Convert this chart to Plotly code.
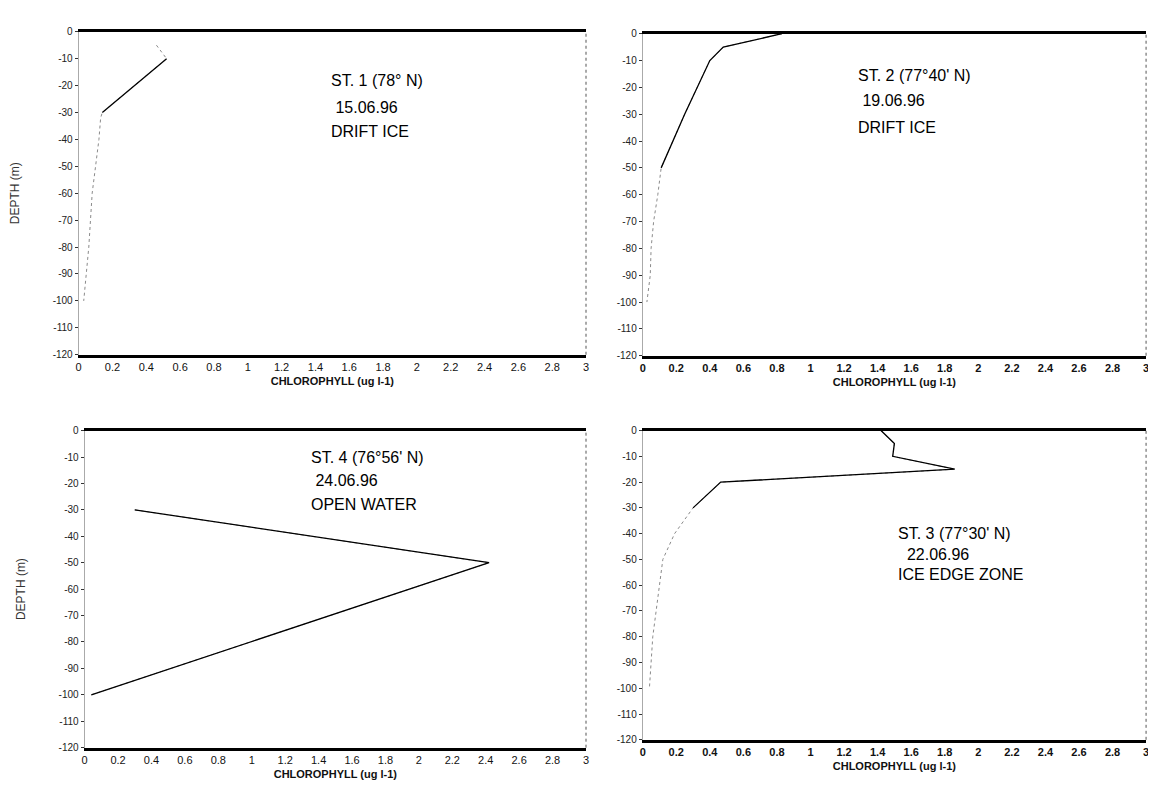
import plotly.graph_objects as go

W, H = 1156, 790

# ---------------- data ----------------
depth_st1 = [-5, -10, -30, -32, -40, -50, -60, -70, -80, -90, -100]
chl_st1 = [0.46, 0.52, 0.14, 0.13, 0.12, 0.10, 0.08, 0.07, 0.06, 0.045, 0.03]
solid_st1 = (1, 2)

depth_st2 = [0, -5, -10, -30, -50, -60, -70, -80, -90, -100]
chl_st2 = [0.83, 0.48, 0.40, 0.25, 0.11, 0.09, 0.065, 0.05, 0.045, 0.025]
solid_st2 = (0, 4)

depth_st3 = [0, -5, -10, -15, -20, -30, -40, -50, -60, -70, -80, -90, -100]
chl_st3 = [1.42, 1.50, 1.49, 1.86, 0.465, 0.30, 0.19, 0.12, 0.10, 0.08, 0.06, 0.05, 0.04]
solid_st3 = (0, 5)

depth_st4 = [-30, -50, -100]
chl_st4 = [0.30, 2.42, 0.04]
solid_st4 = (0, 2)

x_ticks = [0, 0.2, 0.4, 0.6, 0.8, 1, 1.2, 1.4, 1.6, 1.8, 2, 2.2, 2.4, 2.6, 2.8, 3]
y_ticks = [0, -10, -20, -30, -40, -50, -60, -70, -80, -90, -100, -110, -120]
y_ticktext = ["0", "-10", "-20", "-30", "-40", "-50", "-60", "-70", "-80", "-90", "-100", "-110", "-120"]

labels_st1 = ["ST. 1 (78° N)", " 15.06.96", "DRIFT ICE"]
labels_st2 = ["ST. 2 (77°40' N)", " 19.06.96", "DRIFT ICE"]
labels_st3 = ["ST. 3 (77°30' N)", "  22.06.96", "ICE EDGE ZONE"]
labels_st4 = ["ST. 4 (76°56' N)", " 24.06.96", "OPEN WATER"]

x_title = "CHLOROPHYLL (ug l-1)"
y_title = "DEPTH (m)"

# ---------------- layout (pixel boxes: left, right, top, bottom) ----------------
panels = [
    dict(box=(68, 578, 18, 346), chl=chl_st1, depth=depth_st1, solid=solid_st1,
         labels=labels_st1, lab_x=1.48, lab_y=[-18, -28, -37], ytitle=True, bold=False),
    dict(box=(635, 1141, 20, 347), chl=chl_st2, depth=depth_st2, solid=solid_st2,
         labels=labels_st2, lab_x=1.27, lab_y=[-15.5, -25, -35], ytitle=False, bold=True),
    dict(box=(74, 578, 423, 745), chl=chl_st4, depth=depth_st4, solid=solid_st4,
         labels=labels_st4, lab_x=1.34, lab_y=[-10, -19, -28], ytitle=True, bold=False),
    dict(box=(635, 1141, 423, 737), chl=chl_st3, depth=depth_st3, solid=solid_st3,
         labels=labels_st3, lab_x=1.51, lab_y=[-40, -48, -56], ytitle=False, bold=True),
]

fig = go.Figure()
FONT = "Liberation Sans, Arial, sans-serif"

for i, p in enumerate(panels, start=1):
    xa = "x" if i == 1 else f"x{i}"
    ya = "y" if i == 1 else f"y{i}"
    l, r, t, b = p["box"]
    s0, s1 = p["solid"]
    # faded full profile
    fig.add_trace(go.Scatter(x=p["chl"], y=p["depth"], mode="lines", xaxis=xa, yaxis=ya,
                             line=dict(color="#8a8a8a", width=1, dash="dot"),
                             showlegend=False, hoverinfo="skip"))
    # clearly visible part
    fig.add_trace(go.Scatter(x=p["chl"][s0:s1 + 1], y=p["depth"][s0:s1 + 1], mode="lines",
                             xaxis=xa, yaxis=ya, line=dict(color="black", width=1.3),
                             showlegend=False))
    xkey = "xaxis" if i == 1 else f"xaxis{i}"
    ykey = "yaxis" if i == 1 else f"yaxis{i}"
    fig.update_layout({
        xkey: dict(domain=[l / W, r / W], anchor=ya, range=[0, 3],
                   tickvals=x_ticks, ticks="", showgrid=False, zeroline=False,
                   showline=True, linecolor="black", linewidth=2.5, mirror=True,
                   tickfont=dict(family=FONT, size=11, color="#111",
                                 weight="bold" if p["bold"] else "normal"),
                   title=dict(text=x_title, standoff=6,
                              font=dict(family=FONT, size=11, color="#111", weight="bold"))),
        ykey: dict(domain=[1 - b / H, 1 - t / H], anchor=xa, range=[-120, 0],
                   tickvals=y_ticks, ticktext=y_ticktext, ticks="outside", ticklen=3,
                   tickcolor="#333", showgrid=False, zeroline=False,
                   showline=True, linecolor="#aaaaaa", linewidth=1,
                   tickfont=dict(family=FONT, size=10, color="#222"),
                   title=dict(text=y_title if p["ytitle"] else "", standoff=30,
                              font=dict(family=FONT, size=12, color="#333"))),
    })
    # dotted right border
    fig.add_shape(type="line", xref=f"{xa} domain", yref=f"{ya} domain",
                  x0=1, x1=1, y0=0, y1=1, line=dict(color="#555", width=1, dash="dot"))
    for txt, yy in zip(p["labels"], p["lab_y"]):
        fig.add_annotation(x=p["lab_x"], y=yy, xref=xa, yref=ya, text=txt, showarrow=False,
                           xanchor="left", yanchor="middle",
                           font=dict(family=FONT, size=16, color="black"))

fig.update_layout(width=W, height=H, margin=dict(l=0, r=0, t=0, b=0),
                  paper_bgcolor="white", plot_bgcolor="white", showlegend=False)

fig.write_html("out.html")
